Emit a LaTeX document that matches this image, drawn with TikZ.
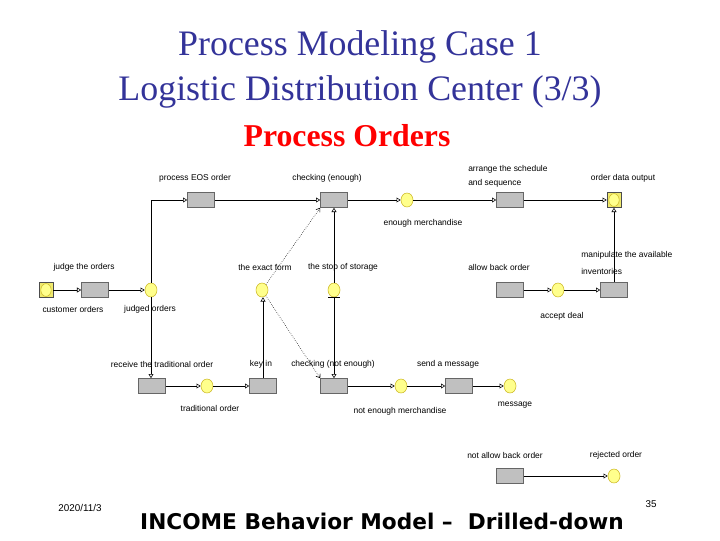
\documentclass[tikz,border=0pt]{standalone}
\usepackage{fontspec}
\setmainfont{Liberation Serif}
\newfontfamily\lblfont{Liberation Sans}
\newfontfamily\footfont{DejaVu Sans}
\usepackage{xcolor}
\usetikzlibrary{arrows.meta,positioning,shapes.geometric}
\definecolor{titleblue}{RGB}{51,51,153}
\definecolor{boxgray}{RGB}{192,192,192}
\definecolor{stategold}{RGB}{205,185,40}
\definecolor{statefill}{RGB}{255,255,140}

\begin{document}
\begin{tikzpicture}[
    x=0.025cm, y=-0.025cm,
    activity/.style={draw=black!60, fill=boxgray, minimum width=0.675cm,
                     minimum height=0.375cm, inner sep=0pt},
    state/.style={ellipse, draw=stategold, fill=statefill, minimum width=0.3cm,
                  minimum height=0.35cm, inner sep=0pt},
    store/.style={draw=black!70, fill=statefill!70!stategold, minimum width=0.35cm,
                  minimum height=0.375cm, inner sep=0pt,
                  path picture={\filldraw[draw=stategold, fill=statefill]
                      (path picture bounding box.center) ellipse (0.13cm and 0.16cm);}},
    flow/.style={-{Triangle[open, length=3pt, width=3.5pt]}, black},
    dflow/.style={-{Straight Barb[length=2.5pt, width=3.5pt]}, densely dotted, black},
    lbl/.style={font=\lblfont\fontsize{6}{10}\selectfont, inner sep=0pt}
]
\useasboundingbox (0,0) rectangle (720,540);

% Titles
\node[font=\fontsize{25.5}{30}\selectfont, text=titleblue] (title1) at (360,47) {Process Modeling Case 1};
\node[font=\fontsize{25.5}{30}\selectfont, text=titleblue] (title2) at (360,92) {Logistic Distribution Center (3/3)};
\node[font=\bfseries\fontsize{22.6}{26}\selectfont, text=red] (subtitle) at (347,136) {Process Orders};

% Activities and states
\node[store] (custord) at (46,290) {};
\node[activity] (judge) at (95,290) {};
\node[state] (judged) at (151,290) {};
\node[activity] (eos) at (201,200) {};
\node[activity] (chkenough) at (334,200) {};
\node[state] (enoughm) at (407,200) {};
\node[activity] (arrange) at (510,200) {};
\node[store] (output) at (614,200) {};
\node[state] (exact) at (262,290) {};
\node[state] (stop) at (334,290) {};
\node[activity] (allow) at (510,290) {};
\node[state] (accept) at (558,290) {};
\node[activity] (manip) at (614,290) {};
\node[activity] (receive) at (152,386) {};
\node[state] (trad) at (207,386) {};
\node[activity] (keyin) at (263,386) {};
\node[activity] (chknot) at (334,386) {};
\node[state] (notenough) at (401,386) {};
\node[activity] (send) at (459,386) {};
\node[state] (msg) at (510,386) {};
\node[activity] (notallow) at (510,476) {};
\node[state] (rejected) at (614,476) {};

% Labels
\node[lbl] (lblcust) at (73,309) {customer orders};
\node[lbl] (lbljudge) at (84,267) {judge the orders};
\node[lbl] (lbljudged) at (150,309) {judged orders};
\node[lbl] (lbleos) at (195,178) {process EOS order};
\node[lbl] (lblchk) at (327,178) {checking (enough)};
\node[lbl, align=left, anchor=west] (lblarrange) at (468,176) {arrange the schedule\\and sequence};
\node[lbl] (lbloutput) at (623,178) {order data output};
\node[lbl] (lblexact) at (265,267) {the exact form};
\node[lbl] (lblstop) at (343,267) {the stop of storage};
\node[lbl] (lblenough) at (423,223) {enough merchandise};
\node[lbl] (lblallow) at (499,267) {allow back order};
\node[lbl, align=left, anchor=west, font=\lblfont\fontsize{6}{12}\selectfont] (lblmanip) at (581,263) {manipulate the available\\inventories};
\node[lbl] (lblaccept) at (562,316) {accept deal};
\node[lbl] (lblreceive) at (162,364) {receive the traditional order};
\node[lbl] (lbltrad) at (210,408) {traditional order};
\node[lbl] (lblkeyin) at (261,364) {key in};
\node[lbl] (lblchknot) at (333,364) {checking (not enough)};
\node[lbl] (lblsend) at (448,364) {send a message};
\node[lbl] (lblnotenough) at (400,411) {not enough merchandise};
\node[lbl] (lblmsg) at (515,405) {message};
\node[lbl] (lblnotallow) at (505,455) {not allow back order};
\node[lbl] (lblrejected) at (616,455) {rejected order};

% Flows
\draw[flow] (custord) -- (judge);
\draw[flow] (judge) -- (judged);
\draw[flow] (judged.north) |- (eos.west);
\draw[flow] (judged.south) -- (judged.south |- receive.north);
\draw[flow] (eos) -- (chkenough);
\draw[flow] (chkenough) -- (enoughm);
\draw[flow] (enoughm) -- (arrange);
\draw[flow] (arrange) -- (output);
\draw[flow] (stop) -- (chkenough);
\draw[flow] (stop) -- (chknot);
\draw ([xshift=-0.15cm]stop.south) -- ([xshift=0.15cm]stop.south);
\draw[dflow] (exact) -- (chkenough.south west);
\draw[dflow] (exact) -- (chknot.north west);
\draw[flow] (keyin.north) -- (keyin.north |- exact.south);
\draw[flow] (receive) -- (trad);
\draw[flow] (trad) -- (keyin);
\draw[flow] (chknot) -- (notenough);
\draw[flow] (notenough) -- (send);
\draw[flow] (send) -- (msg);
\draw[flow] (allow) -- (accept);
\draw[flow] (accept) -- (manip);
\draw[flow] (manip) -- (output);
\draw[flow] (notallow) -- (rejected);

% Footer
\node[font=\lblfont\fontsize{7}{8}\selectfont] (date) at (80,508) {2020/11/3};
\node[font=\lblfont\fontsize{7}{8}\selectfont] (page) at (651,504) {35};
\node[font=\footfont\bfseries\fontsize{15.4}{18}\selectfont] (footer) at (382,521) {INCOME Behavior Model –\ \ Drilled-down};
\end{tikzpicture}
\end{document}
